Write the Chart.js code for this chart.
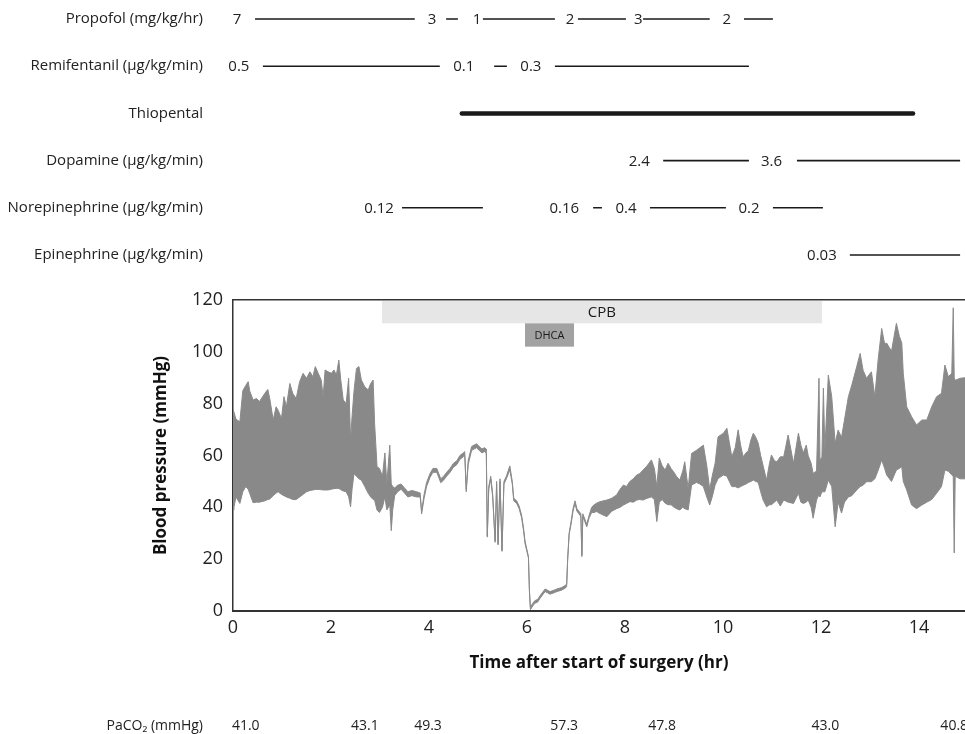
<!DOCTYPE html>
<html>
<head>
<meta charset="utf-8">
<script src="https://cdn.jsdelivr.net/npm/chart.js@4.4.1/dist/chart.umd.min.js"></script>
<style>
  body { margin: 0; background: #fff; }
  #drogas { position: absolute; left: 0; top: 0; }
  #presion { position: absolute; left: 0; top: 285px; }
</style>
</head>
<body>
<canvas id="drogas" width="965" height="280"></canvas>
<canvas id="presion" width="965" height="449"></canvas>
<script>
/**
 * Datos (tiempo en horas desde el inicio de la cirugia)
 */
const nombresDrogas = [
  "Propofol (mg/kg/hr)",
  "Remifentanil (\u00b5g/kg/min)",
  "Thiopental",
  "Dopamine (\u00b5g/kg/min)",
  "Norepinephrine (\u00b5g/kg/min)",
  "Epinephrine (\u00b5g/kg/min)",
];

const propofolDosis = ["7", "3", "1", "2", "3", "2"];
const propofolDosisEn = [0.08, 4.06, 4.98, 6.88, 8.27, 10.08];
const propofolTramos = [[0.45, 3.71], [4.35, 4.59], [5.1, 6.57], [7.04, 8.02], [8.37, 9.73], [10.43, 11.02]];

const remiDosis = ["0.5", "0.1", "0.3"];
const remiDosisEn = [0.12, 4.71, 6.08];
const remiTramos = [[0.61, 4.22], [5.33, 5.59], [6.57, 10.53]];

const tiopentalTramos = [[4.67, 13.88]];

const dopaDosis = ["2.4", "3.6"];
const dopaDosisEn = [8.29, 10.99];
const dopaTramos = [[8.78, 10.53], [11.51, 14.84]];

const norepiDosis = ["0.12", "0.16", "0.4", "0.2"];
const norepiDosisEn = [2.98, 6.76, 8.02, 10.53];
const norepiTramos = [[3.45, 5.1], [7.35, 7.53], [8.51, 10.06], [11.02, 12.04]];

const epiDosis = ["0.03"];
const epiDosisEn = [12.02];
const epiTramos = [[12.59, 14.84]];

// presion arterial: limite superior (sistolica) e inferior (diastolica)
const bpTiempo = [
  0.00, 0.02, 0.06, 0.14, 0.20, 0.26, 0.31, 0.34, 0.41, 0.48, 0.54, 0.65, 0.71, 0.75, 0.82, 0.88,
  0.92, 0.99, 1.04, 1.09, 1.16, 1.22, 1.29, 1.36, 1.43, 1.50, 1.57, 1.63, 1.68, 1.74, 1.80, 1.84,
  1.88, 1.94, 2.01, 2.06, 2.11, 2.16, 2.20, 2.25, 2.31, 2.36, 2.40, 2.43, 2.47, 2.52, 2.57, 2.62,
  2.69, 2.76, 2.81, 2.86, 2.89, 2.94, 2.99,
  3.05, 3.10, 3.14, 3.20, 3.23, 3.26, 3.30, 3.36,
  3.43, 3.50, 3.57, 3.65, 3.75, 3.82, 3.85, 3.90, 3.95, 4.02, 4.08, 4.16, 4.24, 4.30, 4.36, 4.43,
  4.50, 4.57, 4.63, 4.70, 4.73, 4.76, 4.80, 4.87, 4.97, 5.08, 5.13, 5.17, 5.19, 5.22, 5.26, 5.30,
  5.35, 5.38, 5.41, 5.45, 5.49, 5.53, 5.58, 5.65, 5.70, 5.73, 5.79, 5.84, 5.89, 5.93, 5.96, 6.03,
  6.05, 6.07, 6.12, 6.16, 6.22, 6.27, 6.33, 6.37, 6.42, 6.47, 6.55, 6.61, 6.70, 6.78, 6.81, 6.83,
  6.86, 6.90, 6.94, 6.98, 7.02, 7.06, 7.10, 7.12, 7.14, 7.18, 7.22, 7.27, 7.32, 7.37, 7.42, 7.49,
  7.63, 7.73, 7.83, 7.90, 7.97, 8.03, 8.10, 8.17, 8.24, 8.30, 8.37, 8.45, 8.54, 8.60, 8.65, 8.70,
  8.76, 8.82, 8.88, 8.94, 8.99, 9.05, 9.12, 9.18, 9.22, 9.29, 9.36, 9.46, 9.53, 9.60, 9.67, 9.73,
  9.78, 9.84, 9.90, 10.01, 10.08, 10.13, 10.18, 10.25, 10.31, 10.36, 10.41, 10.47, 10.52, 10.57, 10.62, 10.67,
  10.72, 10.77, 10.82, 10.89, 10.95, 10.99, 11.05, 11.10, 11.17, 11.24, 11.33, 11.44, 11.54, 11.59, 11.64, 11.70,
  11.74, 11.80, 11.84, 11.91, 11.96, 11.98, 12.02, 12.05, 12.08, 12.15, 12.22, 12.29, 12.35, 12.42, 12.48, 12.56,
  12.63, 12.73, 12.80, 12.86, 12.93, 13.03, 13.10, 13.17, 13.24, 13.30, 13.34, 13.44, 13.54, 13.60, 13.65, 13.68,
  13.75, 13.85, 13.95, 14.06, 14.16, 14.26, 14.36, 14.46, 14.53, 14.60, 14.67, 14.70, 14.72, 14.74, 14.84, 14.94,
];
const bpSuperior = [
  78, 78, 74, 73, 85, 87, 88.5, 85, 81.4, 82, 80.8, 84, 85.5, 82, 73.7, 78.8,
  77.5, 74.3, 82.7, 78.8, 87.8, 83.9, 82, 88.5, 91.7, 89.8, 92.3, 90.4, 94.3, 91.7, 89.1, 82.7,
  93, 92.3, 91.7, 93, 91.1, 96.8, 89.1, 81.4, 80.1, 89.8, 66, 75, 85, 93.6, 94.3, 89.1,
  86.5, 85.3, 87.8, 89.1, 72.4, 55.7, 55,
  52, 61, 49, 64, 49, 48, 47.5, 48.5,
  49, 47.5, 46, 46.5, 46, 45.5, 38.5, 45, 49.5, 53, 55, 55, 51, 52, 53.5, 55,
  57, 58, 60, 61, 61.5, 47, 58, 63.5, 64.5, 62.5, 63, 62.5, 29, 48, 52, 45,
  27, 50, 26, 51, 23.5, 50, 52, 56, 50, 43.5, 42.5, 40.5, 37, 32, 27, 21,
  8, 1.5, 3, 4, 4.5, 6, 7.5, 8.5, 8, 7.5, 8, 8.5, 9, 9.8, 10.5, 20,
  30, 34.5, 39.5, 42.5, 39.5, 38.5, 37.5, 21.5, 37.5, 35.5, 33.5, 37, 40, 41, 41.6, 42.2,
  42.8, 43.5, 44.8, 47, 48.6, 48, 50, 51, 52.5, 53, 54.4, 56, 58.3, 55, 48, 59,
  56, 54.4, 57, 55, 53.8, 52, 50.5, 54, 57.6, 47.2, 60.8, 62, 63, 64, 56, 46.8,
  52, 57, 67.2, 68.6, 70.5, 65, 59.5, 63, 69.9, 64, 59.5, 61, 62, 66, 68.6, 67,
  64.7, 60, 56, 50.5, 57, 60.2, 58, 57.6, 59.5, 59.5, 67.9, 57, 68.6, 64, 61, 64,
  59.9, 57, 53.1, 54, 89.8, 58, 59.5, 86, 62, 91, 82.7, 64.7, 69.8, 67, 73.7, 82.7,
  87.2, 94.3, 99.4, 92.9, 89.8, 92.3, 82.7, 97.5, 109, 103, 103.4, 100.2, 111, 106, 103.4, 91.7,
  78.8, 75, 71.8, 73.7, 73.7, 78.8, 82.7, 84, 94.9, 90.4, 91.7, 117, 90, 89, 89.8, 90,
];
const bpInferior = [
  39, 40, 44, 41.5, 46, 48, 47, 45.4, 41.8, 42, 42, 42.5, 43, 43.2, 44.5, 45.5,
  46, 45, 44.5, 44, 43.5, 43, 43, 44, 45, 46, 46.5, 46.7, 46.9, 46.9, 46.8, 46.7,
  46.7, 46.7, 47, 47.2, 47.3, 47.3, 46.8, 46.3, 46, 44.1, 40.2, 47, 53, 52, 51, 50.5,
  48, 45.4, 44, 43, 42.8, 38.9, 38,
  40, 44, 39, 41, 31, 39, 44.5, 46,
  47, 45.5, 44, 44.5, 44, 44, 37.5, 43.5, 48, 51.5, 53.5, 53.5, 49.5, 50.5, 52, 53.5,
  55.5, 56.5, 58.5, 59.5, 60, 46, 56.5, 62, 63, 61, 61.5, 61, 28.5, 47, 51, 44,
  26.5, 49, 25.5, 50, 23, 49, 51, 54.5, 49, 42.5, 41.5, 39.5, 36, 31, 26, 20.5,
  7.5, 0.5, 2, 3, 3.5, 5, 6.5, 7.5, 7, 6.5, 7, 7.5, 8, 8.8, 9.5, 19.5,
  29.5, 33.5, 38.5, 41.5, 38.5, 37.5, 36.5, 21, 36.5, 34.5, 32.5, 36, 38, 38, 38.4, 37.6,
  36.4, 38.5, 39.5, 40, 40.9, 41.5, 42.2, 42, 42.8, 43, 42.8, 43.5, 44, 43, 34.5, 42,
  43, 41.6, 41, 41, 40.2, 39.5, 39, 40, 39.5, 39, 48.6, 49.6, 49, 48, 44, 40.9,
  44, 48.6, 51.1, 52.5, 52, 50, 48, 48, 47.5, 48, 48.5, 49, 49.6, 50, 50.5, 50,
  49.6, 46, 42.8, 40.2, 41, 41, 42, 42.8, 40.5, 42.8, 42, 41.5, 45.4, 42, 41.5, 42,
  42.8, 40, 35.8, 42.8, 45, 44, 46, 46, 46, 50.5, 48, 32.5, 42, 37.8, 42, 44,
  44.5, 46.7, 48, 48.5, 49.9, 49.9, 51, 54.4, 58.3, 55, 52.5, 50, 54.4, 55, 55.7, 50,
  46.7, 40.9, 39.5, 40.9, 42, 43, 45.4, 48, 54.4, 53.9, 52.5, 52, 22.4, 52, 51, 51,
];

const cpbTiempo = [3.04, 12.02];
const cpbPresion = [111, 120];
const dhcaTiempo = [5.96, 6.96];
const dhcaPresion = [102, 111];

const ticksTiempo = [0, 2, 4, 6, 8, 10, 12, 14];
const ticksPresion = [0, 20, 40, 60, 80, 100, 120];

const pacoValores = ["41.0", "43.1", "49.3", "57.3", "47.8", "43.0", "40.8"];
const pacoTiempo = [0.26, 2.69, 3.98, 6.76, 8.76, 12.09, 14.72];

const tiempoMax = 14.94;
const anchoEje = 233;

/**
 * Grafico superior: infusiones de drogas
 */
const filas = [
  { dosis: propofolDosis, en: propofolDosisEn, tramos: propofolTramos, grosor: 1.6 },
  { dosis: remiDosis, en: remiDosisEn, tramos: remiTramos, grosor: 1.6 },
  { dosis: [], en: [], tramos: tiopentalTramos, grosor: 4.5 },
  { dosis: dopaDosis, en: dopaDosisEn, tramos: dopaTramos, grosor: 1.6 },
  { dosis: norepiDosis, en: norepiDosisEn, tramos: norepiTramos, grosor: 1.6 },
  { dosis: epiDosis, en: epiDosisEn, tramos: epiTramos, grosor: 1.6 },
];

function puntosTramos(tramos, fila) {
  const puntos = [];
  for (const t of tramos) {
    puntos.push({ x: t[0], y: fila }, { x: t[1], y: fila }, { x: t[1] + 0.01, y: null });
  }
  return puntos;
}

// sin relleno extra arriba/abajo por el padding de los ticks
function fijarEjeY(eje) {
  eje.width = anchoEje;
  eje.paddingTop = 0;
  eje.paddingBottom = 0;
}

const etiquetasDosis = {
  id: "etiquetasDosis",
  afterDatasetsDraw(chart) {
    const { ctx, scales } = chart;
    ctx.save();
    ctx.font = '15px "Open Sans"';
    ctx.fillStyle = "#222";
    ctx.textAlign = "center";
    ctx.textBaseline = "middle";
    filas.forEach((f, i) => {
      f.dosis.forEach((txt, k) => {
        ctx.fillText(txt, scales.x.getPixelForValue(f.en[k]), scales.y.getPixelForValue(i) + 1);
      });
    });
    ctx.restore();
  },
};

new Chart(document.getElementById("drogas"), {
  type: "line",
  data: {
    datasets: filas.map((f, i) => ({
      data: puntosTramos(f.tramos, i),
      borderColor: "#1a1a1a",
      borderWidth: f.grosor,
      borderCapStyle: i == 2 ? "round" : "butt",
      pointRadius: 0,
      spanGaps: false,
      fill: false,
    })),
  },
  options: {
    responsive: false,
    animation: false,
    layout: { padding: 0 },
    plugins: { legend: { display: false }, tooltip: { enabled: false } },
    scales: {
      x: { type: "linear", min: 0, max: tiempoMax, display: false },
      y: {
        type: "linear",
        reverse: true,
        min: -0.4025,
        max: 5.53,
        afterBuildTicks: (eje) => {
          eje.ticks = nombresDrogas.map((n, i) => ({ value: i }));
        },
        afterFit: fijarEjeY,
        ticks: {
          callback: (v) => nombresDrogas[v],
          font: { family: "Open Sans", size: 15 },
          color: "#222",
          padding: 30,
        },
        grid: { display: false, drawTicks: false },
        border: { display: false },
      },
    },
  },
  plugins: [etiquetasDosis],
});

/**
 * Grafico inferior: presion arterial
 */
const barrasCirculacion = {
  id: "barrasCirculacion",
  beforeDatasetsDraw(chart) {
    const { ctx, scales } = chart;
    const x = scales.x, y = scales.y;
    ctx.save();
    // CPB
    let x0 = x.getPixelForValue(cpbTiempo[0]), x1 = x.getPixelForValue(cpbTiempo[1]);
    let y0 = y.getPixelForValue(cpbPresion[1]), y1 = y.getPixelForValue(cpbPresion[0]);
    ctx.fillStyle = "#e6e6e6";
    ctx.fillRect(x0, y0 + 1, x1 - x0, y1 - y0 - 1);
    ctx.fillStyle = "#1a1a1a";
    ctx.font = '15px "Open Sans"';
    ctx.textAlign = "center";
    ctx.textBaseline = "middle";
    ctx.fillText("CPB", (x0 + x1) / 2, (y0 + y1) / 2 + 1);
    // DHCA
    x0 = x.getPixelForValue(dhcaTiempo[0]);
    x1 = x.getPixelForValue(dhcaTiempo[1]);
    y0 = y.getPixelForValue(dhcaPresion[1]);
    y1 = y.getPixelForValue(dhcaPresion[0]);
    ctx.fillStyle = "#a2a2a2";
    ctx.fillRect(x0, y0, x1 - x0, y1 - y0);
    ctx.fillStyle = "#1a1a1a";
    ctx.font = '11px "Open Sans"';
    ctx.fillText("DHCA", (x0 + x1) / 2, (y0 + y1) / 2 + 1);
    ctx.restore();
  },
  afterDraw(chart) {
    const { ctx, scales } = chart;
    ctx.save();
    ctx.font = '14px "Open Sans"';
    ctx.fillStyle = "#222";
    ctx.textBaseline = "middle";
    ctx.textAlign = "right";
    ctx.fillText("PaCO\u2082 (mmHg)", 203, 441);
    ctx.textAlign = "center";
    pacoValores.forEach((v, i) => ctx.fillText(v, scales.x.getPixelForValue(pacoTiempo[i]), 441));
    ctx.restore();
  },
};

new Chart(document.getElementById("presion"), {
  type: "line",
  data: {
    datasets: [
      {
        label: "Superior",
        data: bpTiempo.map((t, i) => ({ x: t, y: bpSuperior[i] })),
        borderColor: "#8a8a8a",
        borderWidth: 1,
        backgroundColor: "#898989",
        pointRadius: 0,
        tension: 0,
        fill: "+1",
      },
      {
        label: "Inferior",
        data: bpTiempo.map((t, i) => ({ x: t, y: bpInferior[i] })),
        borderColor: "#8a8a8a",
        borderWidth: 1,
        pointRadius: 0,
        tension: 0,
        fill: false,
      },
    ],
  },
  options: {
    responsive: false,
    animation: false,
    layout: { padding: { top: 15, bottom: 61, left: 0, right: 0 } },
    plugins: { legend: { display: false }, tooltip: { enabled: false } },
    scales: {
      x: {
        type: "linear",
        position: "bottom",
        min: 0,
        max: tiempoMax,
        afterBuildTicks: (eje) => {
          eje.ticks = ticksTiempo.map((v) => ({ value: v }));
        },
        afterFit: (eje) => {
          eje.height = 62;
        },
        ticks: { font: { family: "Open Sans", size: 18 }, color: "#222", padding: 6 },
        grid: { display: false, drawTicks: false },
        border: { color: "#333", width: 2 },
        title: {
          display: true,
          text: "Time after start of surgery (hr)",
          font: { family: "Open Sans", size: 17, weight: "bold" },
          color: "#111",
          padding: { top: 0, bottom: 0 },
        },
      },
      x2: {
        type: "linear",
        position: "top",
        min: 0,
        max: tiempoMax,
        afterFit: (eje) => {
          eje.height = 0;
        },
        ticks: { display: false },
        grid: { display: false, drawTicks: false },
        border: { color: "#333", width: 1.5 },
      },
      y: {
        type: "linear",
        min: 0,
        max: 120,
        afterBuildTicks: (eje) => {
          eje.ticks = ticksPresion.map((v) => ({ value: v }));
        },
        afterFit: fijarEjeY,
        ticks: { font: { family: "Open Sans", size: 18 }, color: "#222", padding: 10 },
        grid: { display: false, drawTicks: false },
        border: { color: "#333", width: 1.5 },
        title: {
          display: true,
          text: "Blood pressure (mmHg)",
          font: { family: "Open Sans", size: 17, weight: "bold" },
          color: "#111",
          padding: { top: 151, bottom: 0 },
        },
      },
    },
  },
  plugins: [barrasCirculacion],
});
</script>
</body>
</html>
